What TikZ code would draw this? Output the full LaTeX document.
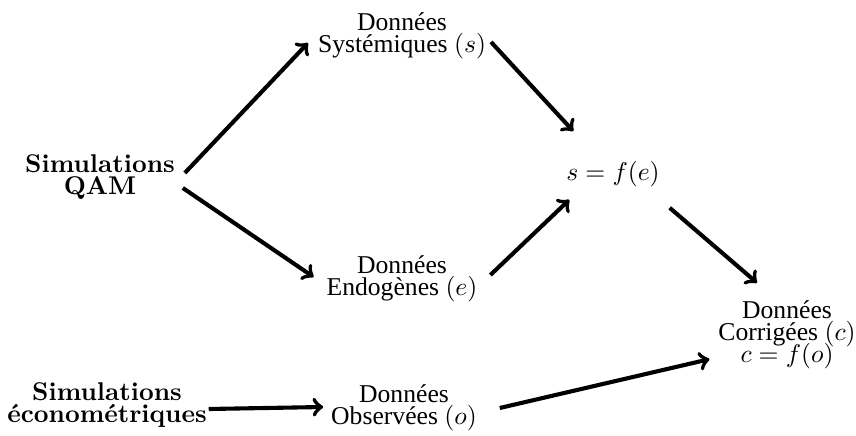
\documentclass[tikz,border=0pt]{standalone}
\usepackage[no-math]{fontspec}
\newfontfamily\timesfont{Liberation Serif}
\begin{document}
\begin{tikzpicture}[x=0.39pt,y=-0.39pt,
        donnees/.style={align=center,inner sep=0pt,outer sep=0pt,
            font={\timesfont\fontsize{10}{8.6}\selectfont\lineskiplimit-5pt}},
        simu/.style={align=center,inner sep=0pt,outer sep=0pt,
            font={\bfseries\fontsize{10}{8.6}\selectfont\lineskiplimit-5pt}},
        fleche/.style={->,ultra thick}]
		
		\useasboundingbox (0,0) rectangle (856,436);
		
		% simulations
		\node[simu] (qam) at (100,177) {Simulations\\QAM};
		\node[simu] (eco) at (107,405) {Simulations\\économétriques};
		
		% donnees
		\node[donnees] (sys)  at (402,36)  {Données\\Systémiques $(s)$};
		\node[donnees] (endo) at (402,279) {Données\\Endogènes $(e)$};
		\node[donnees] (obs)  at (404,408) {Données\\Observées $(o)$};
		\node[donnees] (fse)  at (613,174) {$s=f(e)$};
		\node[donnees] (cor)  at (787,335) {Données\\Corrigées $(c)$\\$c=f(o)$};
		
		% fleches
		\draw[fleche] ([shift={(10,-4)}]qam.east)  -- ([shift={(-10,7)}]sys.west);
		\draw[fleche] ([shift={(8,11)}]qam.east)   -- ([shift={(-13,-2)}]endo.west);
		\draw[fleche] ([shift={(5,6)}]sys.east)    -- ([shift={(7,-30)}]fse.north west);
		\draw[fleche] ([shift={(13,-4)}]endo.east) -- ([shift={(3,13)}]fse.south west);
		\draw[fleche] ([shift={(10,21)}]fse.south east) -- ([shift={(-30,-18)}]cor.north);
		\draw[fleche] ([shift={(2,4)}]eco.east)    -- ([shift={(-8,-1)}]obs.west);
		\draw[fleche] ([shift={(23,0)}]obs.east)   -- ([shift={(-9,-10)}]cor.south west);
\end{tikzpicture}
\end{document}
